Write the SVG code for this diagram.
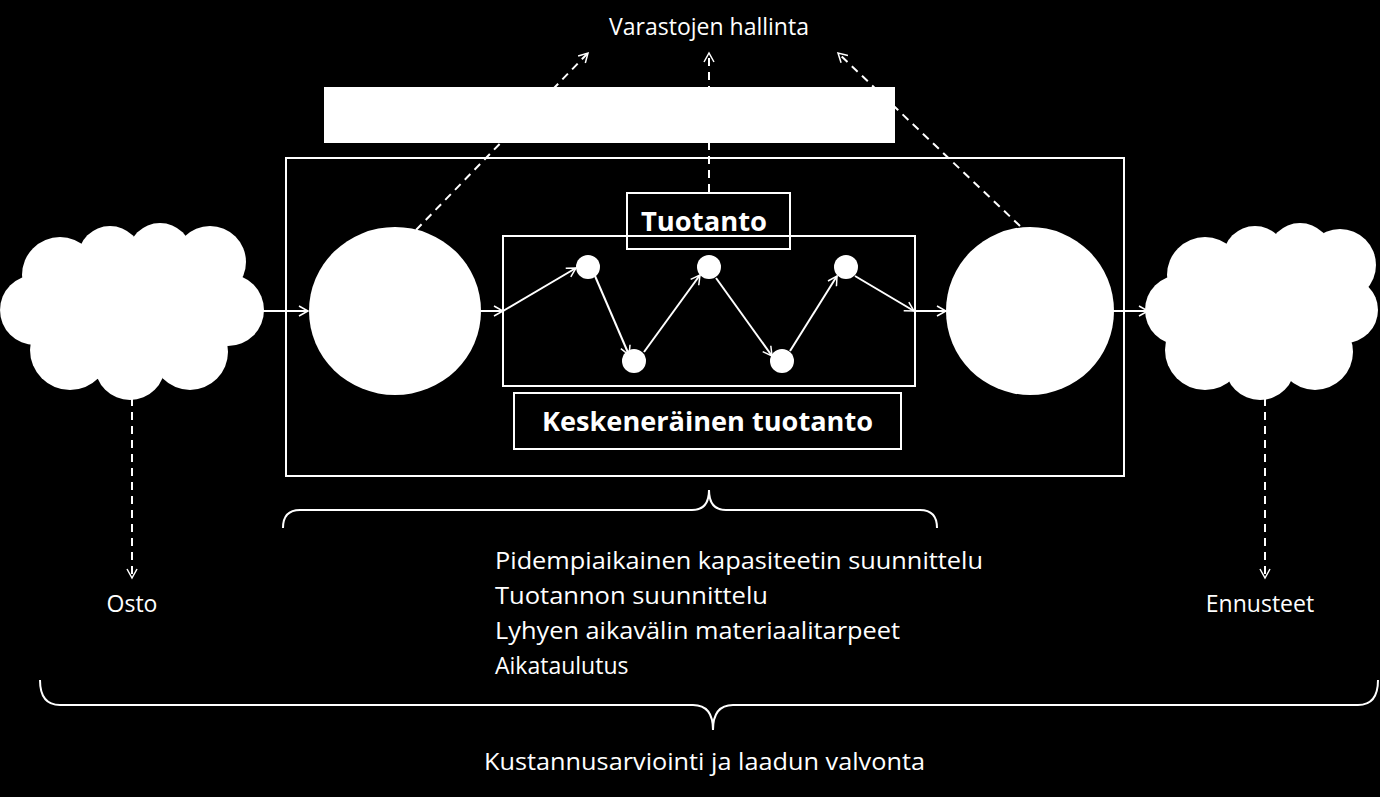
<svg xmlns="http://www.w3.org/2000/svg" width="1380" height="797" viewBox="0 0 1380 797">
<defs>
<marker id="a" markerWidth="12" markerHeight="12" refX="10" refY="6" orient="auto" markerUnits="userSpaceOnUse"><path d="M1,1 L10,6 L1,11" fill="none" stroke="#fff" stroke-width="1.5"/></marker>
<style>
text{font-family:"Open Sans","Liberation Sans",sans-serif;fill:#fff;font-size:23px}
.b{font-weight:bold;font-size:27px}
.l{stroke:#fff;stroke-width:2;fill:none}
.d{stroke:#fff;stroke-width:2;fill:none;stroke-dasharray:8,6}
.w{fill:#fff}
</style>
</defs>
<rect width="1380" height="797" fill="#000"/>
<g id="connectors">
<path class="d" d="M416,230 L588,53" marker-end="url(#a)"/>
<path class="d" d="M709,192 L709,53" marker-end="url(#a)"/>
<path class="d" d="M1020,226 L838,53" marker-end="url(#a)"/>
<path class="d" d="M132,398 L132,578" marker-end="url(#a)"/>
<path class="d" d="M1265,398 L1265,578" marker-end="url(#a)"/>
<path class="l" d="M262,311 L308,311" marker-end="url(#a)"/>
<path class="l" d="M481,311 L503,311" marker-end="url(#a)"/>
<path class="l" d="M503,311 L576,268" marker-end="url(#a)"/>
<path class="l" d="M595,276 L629,355" marker-end="url(#a)"/>
<path class="l" d="M644,352 L700,275" marker-end="url(#a)"/>
<path class="l" d="M716,278 L772,356" marker-end="url(#a)"/>
<path class="l" d="M790,351 L837,276" marker-end="url(#a)"/>
<path class="l" d="M855,276 L914,311" marker-end="url(#a)"/>
<path class="l" d="M914,311 L946,311" marker-end="url(#a)"/>
<path class="l" d="M1113,311 L1148,311" marker-end="url(#a)"/>
<path class="l" d="M283,528 Q283,510 300,510 L692,510 Q709,510 709,490 Q709,510 726,510 L920,510 Q937,510 937,528"/>
<path class="l" d="M40,680 Q40,705 60,705 L693,705 Q713,705 713,730 Q713,705 733,705 L1358,705 Q1378,705 1378,680"/>
</g>
<g id="box-top"><rect x="324" y="87" width="571" height="56" class="w"/></g>
<g id="outer"><rect x="286" y="158" width="838" height="318" class="l"/></g>
<g id="wip-box"><rect x="503" y="236" width="412" height="150" class="l"/></g>
<g id="tuotanto"><rect x="627" y="193" width="163" height="56" class="l"/><text x="641" y="231" class="b" textLength="126" lengthAdjust="spacingAndGlyphs">Tuotanto</text></g>
<g id="kesk"><rect x="514" y="393" width="387" height="56" class="l"/><text x="542" y="431" class="b" textLength="331" lengthAdjust="spacingAndGlyphs">Keskeneräinen tuotanto</text></g>
<g id="circle-left"><ellipse cx="395" cy="311" rx="86" ry="84" class="w"/></g>
<g id="circle-right"><ellipse cx="1030" cy="311" rx="84" ry="84" class="w"/></g>
<g id="dots" class="w">
<circle cx="588" cy="267" r="12"/><circle cx="634" cy="361" r="12"/><circle cx="709" cy="267" r="12"/><circle cx="782" cy="361" r="12"/><circle cx="846" cy="267" r="12"/>
</g>
<g id="cloud-left" class="w">
<circle cx="60" cy="275" r="38"/><circle cx="110" cy="258" r="32"/><circle cx="160" cy="255" r="32"/><circle cx="210" cy="262" r="36"/><circle cx="228" cy="310" r="36"/><circle cx="190" cy="352" r="38"/><circle cx="130" cy="365" r="35"/><circle cx="70" cy="350" r="40"/><circle cx="35" cy="310" r="35"/><ellipse cx="130" cy="310" rx="100" ry="60"/>
</g>
<g id="cloud-right" class="w">
<circle cx="1205" cy="275" r="38"/><circle cx="1255" cy="258" r="32"/><circle cx="1300" cy="255" r="32"/><circle cx="1340" cy="265" r="36"/><circle cx="1345" cy="310" r="33"/><circle cx="1315" cy="352" r="38"/><circle cx="1260" cy="365" r="35"/><circle cx="1205" cy="350" r="40"/><circle cx="1180" cy="310" r="35"/><ellipse cx="1262" cy="310" rx="95" ry="60"/>
</g>
<g id="labels">
<text x="709" y="35" text-anchor="middle">Varastojen hallinta</text>
<text x="132" y="612" text-anchor="middle">Osto</text>
<text x="1260" y="612" text-anchor="middle">Ennusteet</text>
<text x="495" y="569" textLength="488" lengthAdjust="spacingAndGlyphs">Pidempiaikainen kapasiteetin suunnittelu</text>
<text x="495" y="604" textLength="273" lengthAdjust="spacingAndGlyphs">Tuotannon suunnittelu</text>
<text x="495" y="639" textLength="405" lengthAdjust="spacingAndGlyphs">Lyhyen aikavälin materiaalitarpeet</text>
<text x="495" y="674">Aikataulutus</text>
<text x="484" y="770" textLength="441" lengthAdjust="spacingAndGlyphs">Kustannusarviointi ja laadun valvonta</text>
</g>
</svg>
